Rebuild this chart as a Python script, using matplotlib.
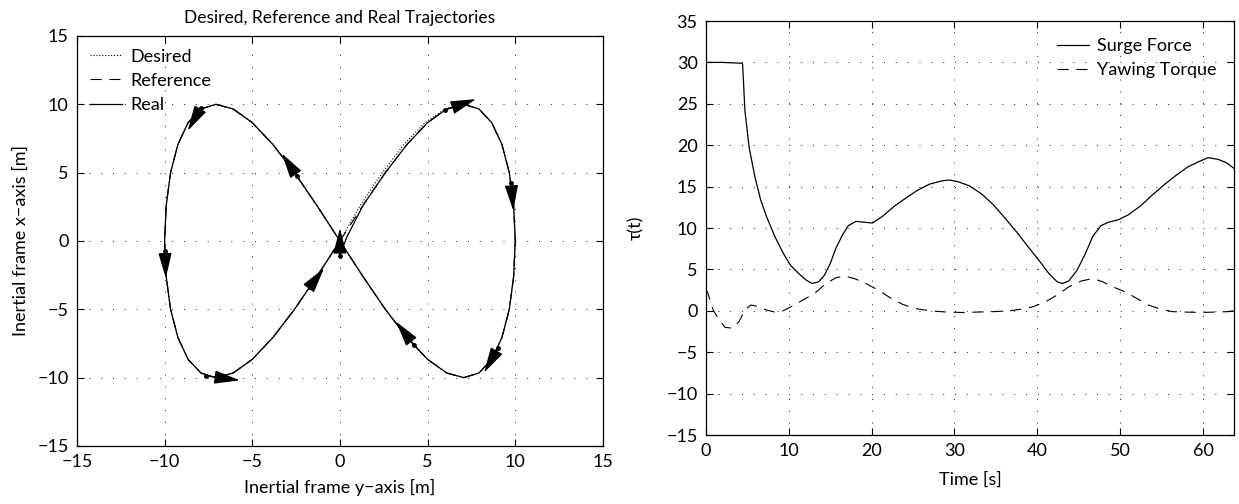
import matplotlib.pyplot as plt
import numpy as np

plt.rcParams['font.family'] = ['Lato', 'DejaVu Sans']
plt.rcParams['axes.unicode_minus'] = True

# figure-8 trajectory, horizontal = inertial y, vertical = inertial x
desired_y = [0, 1.15, 2.42, 3.65, 4.85, 6.0, 7.07, 7.93, 8.66, 9.24, 9.66, 9.91, 10.0,
             9.91, 9.66, 9.24, 8.66, 7.93, 7.07, 6.09, 5.0, 3.83, 2.59, 1.31, 0,
             -1.31, -2.59, -3.83, -5.0, -6.09, -7.07, -7.93, -8.66, -9.24, -9.66, -9.91, -10.0,
             -9.91, -9.66, -9.24, -8.66, -7.93, -7.07, -6.09, -5.0, -3.83, -2.59, -1.31, 0]
desired_x = [0, 2.59, 5.0, 7.07, 8.66, 9.66, 10.0, 9.66, 8.66, 7.07, 5.0, 2.59, 0,
             -2.59, -5.0, -7.07, -8.66, -9.66, -10.0, -9.66, -8.66, -7.07, -5.0, -2.59, 0,
             2.59, 5.0, 7.07, 8.66, 9.66, 10.0, 9.66, 8.66, 7.07, 5.0, 2.59, 0,
             -2.59, -5.0, -7.07, -8.66, -9.66, -10.0, -9.66, -8.66, -7.07, -5.0, -2.59, 0]
ref_y = [0, 1.31, 2.59, 3.83, 5.0, 6.09, 7.07, 7.93, 8.66, 9.24, 9.66, 9.91, 10.0,
         9.91, 9.66, 9.24, 8.66, 7.93, 7.07, 6.09, 5.0, 3.83, 2.59, 1.31, 0,
         -1.31, -2.59, -3.83, -5.0, -6.09, -7.07, -7.93, -8.66, -9.24, -9.66, -9.91, -10.0,
         -9.91, -9.66, -9.24, -8.66, -7.93, -7.07, -6.09, -5.0, -3.83, -2.59, -1.31, 0]
ref_x = desired_x
real_y = [0, 0.4, 1.31, 2.59, 3.83, 5.0, 6.09, 7.07, 7.93, 8.66, 9.24, 9.66, 9.91, 10.0,
          9.91, 9.66, 9.24, 8.66, 7.93, 7.07, 6.09, 5.0, 3.83, 2.59, 1.31, 0,
          -1.31, -2.59, -3.83, -5.0, -6.09, -7.07, -7.93, -8.66, -9.24, -9.66, -9.91, -10.0,
          -9.91, -9.66, -9.24, -8.66, -7.93, -7.07, -6.09, -5.0, -3.83, -2.59, -1.31, 0]
real_x = [-1.0, 0.3, 2.59, 5.0, 7.07, 8.66, 9.66, 10.0, 9.66, 8.66, 7.07, 5.0, 2.59, 0,
          -2.59, -5.0, -7.07, -8.66, -9.66, -10.0, -9.66, -8.66, -7.07, -5.0, -2.59, 0,
          2.59, 5.0, 7.07, 8.66, 9.66, 10.0, 9.66, 8.66, 7.07, 5.0, 2.59, 0,
          -2.59, -5.0, -7.07, -8.66, -9.66, -10.0, -9.66, -8.66, -7.07, -5.0, -2.59, 0]

# direction arrows (tail dot -> head tip)
arrow_tail_y = [-7.95, -2.47, -9.98, -7.65, -1.71, 0.0, 6.0, 9.77, 9.02, 4.22]
arrow_tail_x = [9.70, 4.78, -0.73, -9.87, -3.34, -1.07, 9.58, 4.27, -7.85, -7.6]
arrow_tip_y = [-8.68, -3.31, -9.93, -5.71, -0.91, 0.0, 7.76, 9.89, 8.22, 3.2]
arrow_tip_x = [8.07, 6.41, -2.73, -10.2, -2.0, 0.93, 10.38, 2.22, -9.63, -5.9]

# control inputs
surge_t = [0, 2, 4.32, 4.42, 4.7, 5.2, 5.9, 6.6, 7.3, 8.3, 9.3, 10.2, 11.2, 12.1, 12.8, 13.6,
           14.3, 15.0, 15.7, 16.5, 17.2, 18.1, 19.1, 20.1, 21.3, 22.7, 24.1, 25.6, 27.0,
           28.5, 29.4, 30.4, 31.8, 33.3, 34.7, 36.1, 37.6, 39.0, 40.5, 41.4, 42.4, 43.0,
           43.8, 44.8, 45.8, 46.7, 47.7, 48.6, 49.8, 51.0, 52.5, 53.9, 55.4, 56.8, 58.2,
           59.7, 60.6, 61.8, 62.8, 63.75]
surge_f = [30.0, 30.0, 29.9, 29.8, 24.2, 19.8, 16.2, 13.4, 11.4, 9.0, 7.0, 5.5, 4.5, 3.7, 3.3, 3.5,
           4.3, 5.7, 7.6, 9.2, 10.3, 10.8, 10.7, 10.6, 11.4, 12.6, 13.6, 14.6, 15.3,
           15.7, 15.8, 15.6, 15.1, 14.1, 12.8, 11.2, 9.4, 7.6, 5.7, 4.5, 3.5, 3.3,
           3.6, 4.9, 6.9, 9.0, 10.3, 10.7, 11.0, 11.6, 12.7, 14.0, 15.3, 16.4, 17.4,
           18.1, 18.5, 18.3, 17.9, 17.2]
yaw_t = [0.0, 0.24, 0.86, 1.6, 2.3, 3.2, 4.0, 4.7, 5.4, 6.4, 7.3, 8.3, 9.3, 10.2, 11.7, 13.1,
         14.5, 15.7, 16.7, 17.9, 19.3, 20.8, 22.2, 23.7, 25.1, 27.0, 29.0, 30.9, 32.8,
         34.7, 36.6, 38.1, 39.5, 41.0, 42.4, 43.8, 45.3, 46.7, 47.9, 49.1, 50.6, 52.0,
         53.4, 54.9, 56.3, 57.8, 59.7, 61.6, 63.0, 63.75]
yaw_tq = [2.6, 2.1, 0.1, -1.1, -2.0, -2.1, -1.3, 0.1, 0.7, 0.5, 0.1, -0.15, 0.0, 0.45, 1.3, 2.1,
          3.3, 4.0, 4.2, 3.9, 3.3, 2.5, 1.6, 0.8, 0.3, 0.0, -0.15, -0.2, -0.15,
          -0.1, 0.0, 0.2, 0.5, 1.1, 1.9, 2.9, 3.6, 3.9, 3.5, 2.9, 2.3, 1.5,
          0.7, 0.2, -0.1, -0.15, -0.2, -0.15, -0.1, 0.0]

FS = 13


def style_axes(ax):
    ax.tick_params(direction='in', length=5, width=0.8, top=True, right=True,
                   labelsize=FS, pad=6, colors='black')
    ax.grid(True, color='black', linestyle=(0, (1.2, 13)), linewidth=0.6)
    for s in ax.spines.values():
        s.set_linewidth(0.9)


fig = plt.figure(figsize=(12.39, 5.04), dpi=100)

# left: trajectories
ax1 = fig.add_axes([0.0621, 0.1151, 0.4245, 0.8135])
ax1.plot(desired_y, desired_x, color='k', linestyle=':', linewidth=0.8, label='Desired')
ax1.plot(ref_y, ref_x, color='k', linewidth=0.8, dashes=(10, 7), label='Reference')
ax1.plot(real_y, real_x, color='k', linewidth=0.9, label='Real')
ax1.plot(arrow_tail_y, arrow_tail_x, 'k.', markersize=5)
for ty, tx, hy, hx in zip(arrow_tail_y, arrow_tail_x, arrow_tip_y, arrow_tip_x):
    ax1.annotate('', xy=(hy, hx), xytext=(ty, tx),
                 arrowprops=dict(arrowstyle='-|>,head_length=1.6,head_width=0.42',
                                 color='k', lw=0.9, shrinkA=0, shrinkB=0))
ax1.set_xlim(-15, 15)
ax1.set_ylim(-15, 15)
ax1.set_xticks(np.arange(-15, 16, 5))
ax1.set_yticks(np.arange(-15, 16, 5))
style_axes(ax1)
ax1.set_title('Desired, Reference and Real Trajectories', fontsize=12.5, pad=9)
ax1.set_xlabel('Inertial frame y\u2212axis [m]', fontsize=FS, labelpad=6)
ax1.set_ylabel('Inertial frame x\u2212axis [m]', fontsize=FS, labelpad=6)
ax1.legend(loc='upper left', frameon=False, fontsize=FS, handlelength=1.8,
           handletextpad=0.45, labelspacing=0.45, borderaxespad=0.3)

# right: control inputs
ax2 = fig.add_axes([0.5698, 0.1369, 0.4262, 0.8214])
ax2.plot(surge_t, surge_f, color='k', linewidth=0.9, label='Surge Force')
ax2.plot(yaw_t, yaw_tq, color='k', linewidth=0.8, dashes=(10, 7), label='Yawing Torque')
ax2.set_xlim(0, 63.75)
ax2.set_ylim(-15, 35)
ax2.set_xticks(np.arange(0, 61, 10))
ax2.set_yticks(np.arange(-15, 36, 5))
style_axes(ax2)
ax2.set_xlabel('Time [s]', fontsize=FS, labelpad=9)
ax2.set_ylabel('\u03c4(t)', fontsize=FS, labelpad=16)
ax2.legend(loc='upper right', frameon=False, fontsize=FS, handlelength=1.8,
           handletextpad=0.45, labelspacing=0.45, borderaxespad=0.55)

fig.savefig('out.png', dpi=100)
